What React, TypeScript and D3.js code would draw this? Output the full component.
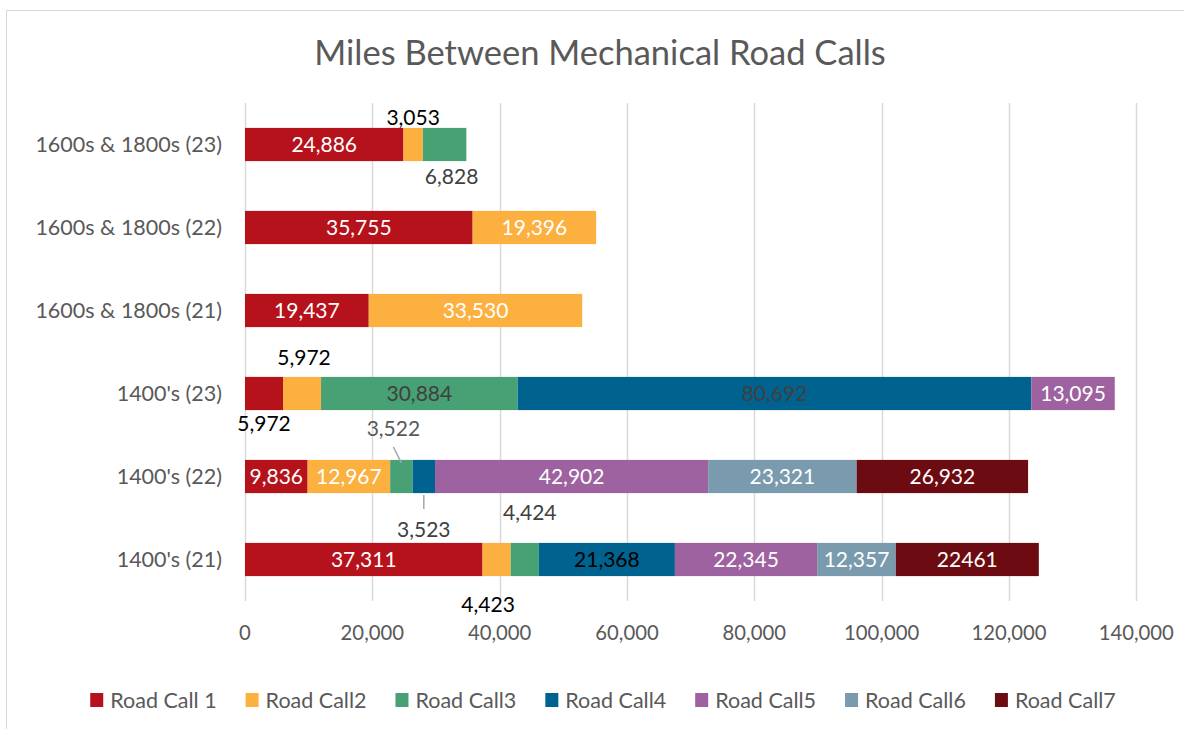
import React, { useEffect, useRef } from 'react';
import * as d3 from 'd3';

const categories = [
  "1600s & 1800s (23)",
  "1600s & 1800s (22)",
  "1600s & 1800s (21)",
  "1400's (23)",
  "1400's (22)",
  "1400's (21)",
];
const seriesNames = ["Road Call 1", "Road Call2", "Road Call3", "Road Call4", "Road Call5", "Road Call6", "Road Call7"];
const roadCall1 = [24886, 35755, 19437, 5972, 9836, 37311];
const roadCall2 = [3053, 19396, 33530, 5972, 12967, 4423];
const roadCall3 = [6828, 0, 0, 30884, 3522, 4424];
const roadCall4 = [0, 0, 0, 80692, 3523, 21368];
const roadCall5 = [0, 0, 0, 13095, 42902, 22345];
const roadCall6 = [0, 0, 0, 0, 23321, 12357];
const roadCall7 = [0, 0, 0, 0, 26932, 22461];
const seriesValues = [roadCall1, roadCall2, roadCall3, roadCall4, roadCall5, roadCall6, roadCall7];
const xTicks = [0, 20000, 40000, 60000, 80000, 100000, 120000, 140000];
const title = "Miles Between Mechanical Road Calls";

const colors = ["#B5121B", "#FBB040", "#47A174", "#00628F", "#9D629F", "#7A9AAE", "#6D0B12"];
const insideLabelColors = ["#ffffff", "#ffffff", "#404040", "#404040", "#ffffff", "#ffffff", "#ffffff"];

// label placement overrides: key "series-category"
type LabelOpt = { dx: number; dy: number; color: string; leader?: boolean };
const labelOverrides: Record<string, LabelOpt> = {
  "1-0": { dx: 0, dy: -26.5, color: "#000000" },
  "2-0": { dx: 7, dy: 32.5, color: "#404040" },
  "0-3": { dx: 0, dy: 30.5, color: "#000000" },
  "1-3": { dx: 2, dy: -35.5, color: "#000000" },
  "2-4": { dx: -8, dy: -47.5, color: "#595959", leader: true },
  "3-4": { dx: 0, dy: 53.5, color: "#404040", leader: true },
  "1-5": { dx: -8.5, dy: 45.5, color: "#000000" },
  "2-5": { dx: 5, dy: -46.5, color: "#404040" },
  "3-5": { dx: 0, dy: 0, color: "#000000" },
};
const noCommaLabels = new Set(["6-5"]);

const W = 1184, H = 729;
const FONT = "Lato, 'Noto Sans', sans-serif";
const TEXT = "#595959";

export default function App() {
  const ref = useRef<SVGSVGElement | null>(null);

  useEffect(() => {
    const svg = d3.select(ref.current);
    svg.selectAll("*").remove();

    const left = 245, right = 1136.3, top = 103, bottom = 601;
    const x = d3.scaleLinear().domain([0, 140000]).range([left, right]);
    const y = d3.scaleBand().domain(categories).range([top, bottom]).paddingInner(0.6).paddingOuter(0.3);
    const bh = y.bandwidth();

    // border
    svg.append("rect").attr("x", 6.5).attr("y", 10.5).attr("width", W + 20).attr("height", H + 20)
      .attr("fill", "#fff").attr("stroke", "#d9d9d9").attr("stroke-width", 1);

    // title
    svg.append("text").attr("x", 600).attr("y", 53).attr("dy", "0.35em")
      .attr("text-anchor", "middle").attr("font-family", FONT).attr("font-size", 34.5)
      .attr("fill", TEXT).text(title);

    // gridlines
    svg.append("g").selectAll("line").data(xTicks).join("line")
      .attr("x1", d => Math.round(x(d)) + 0.5).attr("x2", d => Math.round(x(d)) + 0.5)
      .attr("y1", top).attr("y2", bottom)
      .attr("stroke", "#d9d9d9").attr("stroke-width", 1.5);

    // tick labels
    svg.append("g").selectAll("text").data(xTicks).join("text")
      .attr("x", d => x(d)).attr("y", 633).attr("dy", "0.35em")
      .attr("text-anchor", "middle").attr("font-family", FONT).attr("font-size", 20.3)
      .attr("fill", TEXT).text(d => d3.format(",")(d));

    // category labels
    svg.append("g").selectAll("text").data(categories).join("text")
      .attr("x", 222).attr("y", d => (y(d) as number) + bh / 2).attr("dy", "0.35em")
      .attr("text-anchor", "end").attr("font-family", FONT).attr("font-size", 21.5)
      .attr("fill", TEXT).text(d => d);

    // stacked
    const rows = categories.map((c, ci) => {
      const o: any = { cat: c };
      seriesNames.forEach((s, si) => { o[s] = seriesValues[si][ci]; });
      return o;
    });
    const stacked = d3.stack().keys(seriesNames)(rows);

    const barG = svg.append("g");
    const labelG = svg.append("g");
    stacked.forEach((layer, si) => {
      layer.forEach((seg, ci) => {
        const v = seriesValues[si][ci];
        if (!v) return;
        const cat = categories[ci];
        const x0 = x(seg[0]), x1 = x(seg[1]);
        const y0 = y(cat) as number;
        barG.append("rect").attr("x", x0).attr("y", y0).attr("width", x1 - x0).attr("height", bh)
          .attr("fill", colors[si]);
        const key = `${si}-${ci}`;
        const ov = labelOverrides[key];
        const cx = (x0 + x1) / 2, cy = y0 + bh / 2;
        const lx = cx + (ov ? ov.dx : 0), ly = cy + (ov ? ov.dy : 0);
        const txt = noCommaLabels.has(key) ? String(v) : d3.format(",")(v);
        labelG.append("text").attr("x", lx).attr("y", ly).attr("dy", "0.35em")
          .attr("text-anchor", "middle").attr("font-family", FONT).attr("font-size", 21)
          .attr("fill", ov ? ov.color : insideLabelColors[si]).text(txt);
        if (ov && ov.leader) {
          const above = ov.dy < 0;
          const sy = above ? ly + 18 : ly - 21;
          const ey = above ? y0 + 3 : y0 + bh + 2;
          labelG.append("line").attr("x1", lx).attr("y1", sy).attr("x2", cx).attr("y2", ey)
            .attr("stroke", "#a6a6a6").attr("stroke-width", 1.5);
        }
      });
    });

    // legend
    const legG = svg.append("g");
    let cur = 0;
    const gap = 29;
    seriesNames.forEach((s, si) => {
      const g = legG.append("g").attr("transform", `translate(${cur},0)`);
      g.append("rect").attr("x", 0).attr("y", -7).attr("width", 13).attr("height", 14).attr("fill", colors[si]);
      const t = g.append("text").attr("x", 20).attr("y", 0).attr("dy", "0.35em")
        .attr("font-family", FONT).attr("font-size", 21.5).attr("fill", TEXT).text(s);
      const tw = (t.node() as SVGTextElement).getComputedTextLength();
      cur += 20 + tw + gap;
    });
    const total = cur - gap;
    legG.attr("transform", `translate(${603 - total / 2},700)`);
  }, []);

  return (
    <svg ref={ref} width={W} height={H} style={{ position: "absolute", left: 0, top: 0, background: "#fff" }} />
  );
}
